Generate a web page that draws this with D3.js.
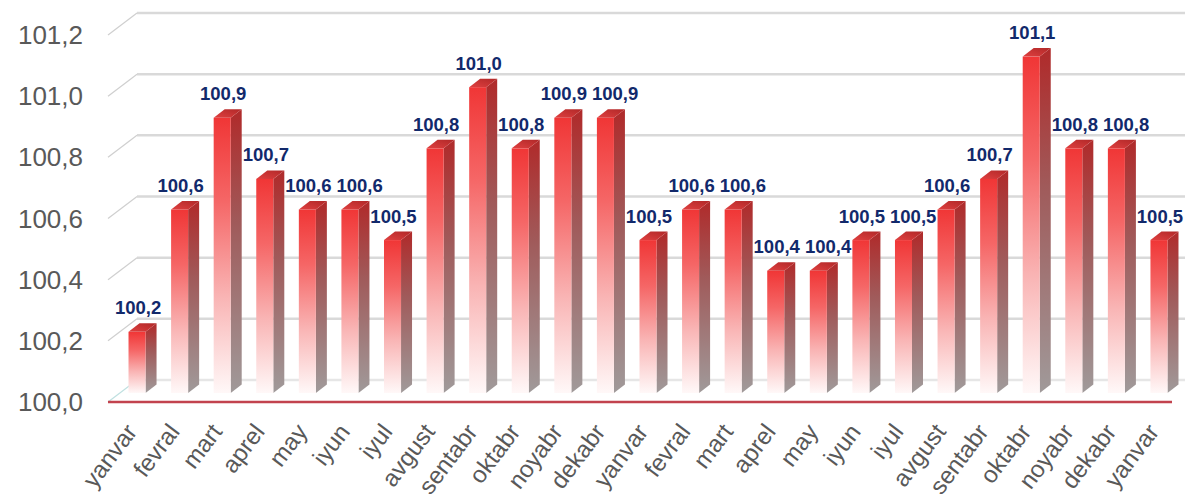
<!DOCTYPE html>
<html><head><meta charset="utf-8">
<script src="https://cdn.jsdelivr.net/npm/d3@7"></script>
<style>html,body{margin:0;padding:0;background:#fff;}svg{display:block;}</style>
</head><body>
<script>
const categories = ["yanvar","fevral","mart","aprel","may","iyun","iyul","avgust","sentabr","oktabr","noyabr","dekabr",
  "yanvar","fevral","mart","aprel","may","iyun","iyul","avgust","sentabr","oktabr","noyabr","dekabr","yanvar"];
const values = [100.2,100.6,100.9,100.7,100.6,100.6,100.5,100.8,101.0,100.8,100.9,100.9,
  100.5,100.6,100.6,100.4,100.4,100.5,100.5,100.6,100.7,101.1,100.8,100.8,100.5];
const yTicks = [100.0,100.2,100.4,100.6,100.8,101.0,101.2];

const W = 1192, H = 503;
const svg = d3.select("body").append("svg").attr("width", W).attr("height", H);
const defs = svg.append("defs");
const gf = defs.append("linearGradient").attr("id","gFront").attr("x1",0).attr("y1",0).attr("x2",0).attr("y2",1);
gf.append("stop").attr("offset","0%").attr("stop-color","#f03636");
gf.append("stop").attr("offset","30%").attr("stop-color","#f56666");
gf.append("stop").attr("offset","65%").attr("stop-color","#f9b4b4");
gf.append("stop").attr("offset","100%").attr("stop-color","#fff8f8");
const gs = defs.append("linearGradient").attr("id","gSide").attr("x1",0).attr("y1",0).attr("x2",0).attr("y2",1);
gs.append("stop").attr("offset","0%").attr("stop-color","#b02a2a");
gs.append("stop").attr("offset","40%").attr("stop-color","#a05a5a");
gs.append("stop").attr("offset","100%").attr("stop-color","#a09a9a");
const gt = defs.append("linearGradient").attr("id","gTop").attr("x1",0).attr("y1",1).attr("x2",1).attr("y2",0);
gt.append("stop").attr("offset","0%").attr("stop-color","#e04040");
gt.append("stop").attr("offset","100%").attr("stop-color","#b02828");

const y = d3.scaleLinear().domain([100, 101.2]).range([402, 35]);
const x = d3.scaleBand().domain(d3.range(categories.length)).range([108, 1164]).paddingInner(0.6).paddingOuter(0.2);

const wallDx = 29, wallDy = -22;   // back wall offset
const barDx = 12, barDy = -9;      // bar depth position
const sd = 11, sdY = 8.5;          // bar depth size
const x0 = 108, xEnd = 1185, xFloorEnd = 1172;
const fmt = v => d3.format(".1f")(v).replace(".", ",");

// back gridlines + left wall diagonals
const grid = svg.append("g");
yTicks.forEach(t => {
  grid.append("line").attr("x1", x0 + wallDx).attr("x2", xEnd).attr("y1", y(t) + wallDy).attr("y2", y(t) + wallDy)
    .attr("stroke", t === 100 ? "#e6e6e6" : "#d9d9d9").attr("stroke-width", 2.5);
  grid.append("line").attr("x1", x0).attr("y1", y(t)).attr("x2", x0 + wallDx).attr("y2", y(t) + wallDy)
    .attr("stroke", t === 100 ? "#bfe0e0" : "#cfcfcf").attr("stroke-width", 1.2);
});

// y axis labels
svg.append("g").selectAll("text").data(yTicks).join("text")
  .attr("x", 83).attr("y", d => y(d)).attr("dy", "0.35em").attr("text-anchor", "end")
  .attr("font-family", "Liberation Sans, Arial, sans-serif").attr("font-size", 26).attr("fill", "#595959")
  .text(fmt);

// bars
const bw = x.bandwidth();
const bars = svg.append("g").selectAll("g").data(values).join("g");
bars.each(function(v, i) {
  const g = d3.select(this);
  const fx = x(i) + barDx, top = y(v) + barDy, bot = y(100) + barDy;
  g.append("polygon").attr("points", [[fx+bw, top],[fx+bw+sd, top-sdY],[fx+bw+sd, bot-sdY],[fx+bw, bot]].join(" "))
    .attr("fill", "url(#gSide)");
  g.append("rect").attr("x", fx).attr("y", top).attr("width", bw).attr("height", bot - top).attr("fill", "url(#gFront)");
  g.append("polygon").attr("points", [[fx, top],[fx+sd, top-sdY],[fx+bw+sd, top-sdY],[fx+bw, top]].join(" "))
    .attr("fill", "url(#gTop)");
});

// value labels with simple left-to-right overlap avoidance
const lbl = svg.append("g");
let prev = null;
values.forEach((v, i) => {
  const fx = x(i) + barDx, top = y(v) + barDy;
  const t = lbl.append("text").attr("text-anchor", "middle")
    .attr("font-family", "Liberation Sans, Arial, sans-serif").attr("font-weight", "bold").attr("font-size", 18.5)
    .attr("fill", "#12296b").text(fmt(v));
  let cx = fx + bw/2 + 1, by = top - sdY - 9;
  const w = t.node().getComputedTextLength();
  if (prev && Math.abs(prev.by - by) < 20 && cx - w/2 < prev.right + 5) cx = prev.right + 5 + w/2;
  t.attr("x", cx).attr("y", by);
  prev = {right: cx + w/2, by};
});

// floor front line
svg.append("line").attr("x1", x0).attr("x2", xFloorEnd).attr("y1", y(100)).attr("y2", y(100))
  .attr("stroke", "#c2434e").attr("stroke-width", 2.5);

// x labels
svg.append("g").selectAll("text").data(categories).join("text")
  .attr("transform", (d, i) => `translate(${x(i) + barDx + bw/2 + 1},${432}) rotate(-53)`)
  .attr("text-anchor", "end")
  .attr("font-family", "Liberation Sans, Arial, sans-serif").attr("font-size", 24).attr("fill", "#595959")
  .text(d => d);
</script>
</body></html>
